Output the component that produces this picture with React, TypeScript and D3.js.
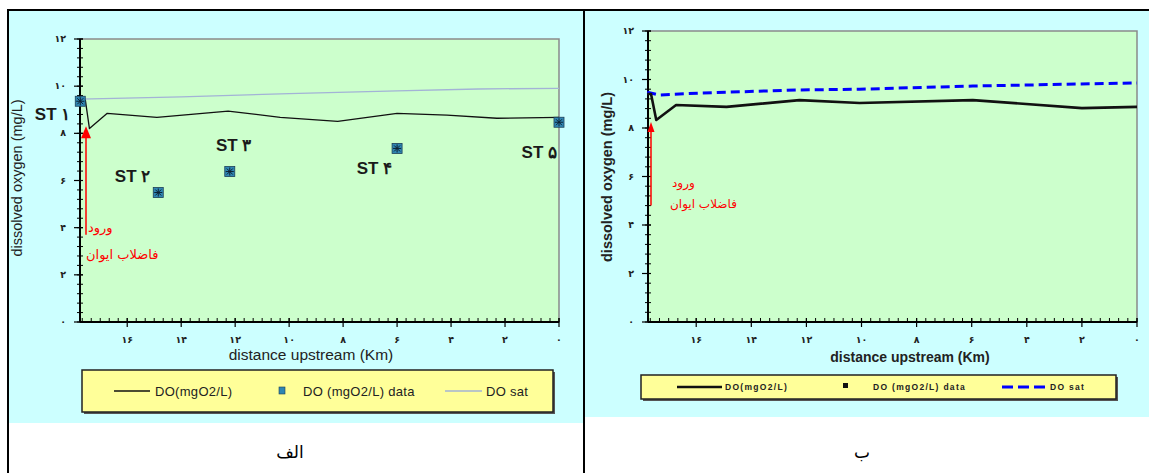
import { useRef, useEffect } from "react";
import * as d3 from "d3";

// distance upstream (km) -> dissolved oxygen (mg/L)
const leftModelKm = [17.74, 17.55, 17.4, 16.74, 14.9, 12.26, 10.33, 8.2, 6.0, 4.15, 2.3, 0];
const leftModelDO = [9.4, 9.4, 8.2, 8.85, 8.68, 8.94, 8.68, 8.51, 8.85, 8.77, 8.64, 8.68];
const leftSatKm = [17.74, 14, 10, 6, 3, 0];
const leftSatDO = [9.45, 9.55, 9.68, 9.8, 9.88, 9.91];

const stationNames = ["ST ۱", "ST ۲", "ST ۳", "ST ۴", "ST ۵"];
const stationKm = [17.74, 14.85, 12.2, 6.0, 0];
const stationDO = [9.36, 5.49, 6.38, 7.36, 8.47];

const rightModelKm = [17.78, 17.64, 17.45, 16.73, 14.9, 12.25, 10.07, 5.96, 2.0, 0];
const rightModelDO = [9.4, 9.4, 8.33, 8.95, 8.87, 9.15, 9.03, 9.15, 8.82, 8.87];
const rightSatKm = [17.78, 17.35, 15.9, 12.25, 10.07, 5.96, 0];
const rightSatDO = [9.48, 9.36, 9.44, 9.57, 9.6, 9.73, 9.86];

const xTickValues = [16, 14, 12, 10, 8, 6, 4, 2, 0];
const yTickValues = [0, 2, 4, 6, 8, 10, 12];
const legendLabels = ["DO(mgO2/L)", "DO (mgO2/L) data", "DO sat"];
const inflowLabel = ["ورود", "فاضلاب ایوان"];
const captions = ["الف", "ب"];

const fa = (n) => String(n).replace(/\d/g, (d) => "۰۱۲۳۴۵۶۷۸۹"[+d]);
const zip = (xs, ys) => xs.map((x, i) => ({ km: x, v: ys[i] }));

// label offsets from each station point (px)
const labelOffsets = [
  { dx: -10, dy: 19, anchor: "end" },
  { dx: -8, dy: -11, anchor: "end" },
  { dx: 4, dy: -21, anchor: "middle" },
  { dx: -5, dy: 26, anchor: "end" },
  { dx: -2, dy: 36, anchor: "end" },
];

const drawPanel = (svg, cfg) => {
  const g = svg.append("g");
  const x = d3.scaleLinear().domain([17.75, 0]).range([cfg.left, cfg.right]);
  const y = d3.scaleLinear().domain([0, 12]).range([cfg.bottom, cfg.top]);

  // panel background
  g.append("rect")
    .attr("x", cfg.bgX)
    .attr("y", 11)
    .attr("width", cfg.bgW)
    .attr("height", cfg.bgH)
    .attr("fill", "#CCFFFF");

  // plot area
  g.append("rect")
    .attr("x", cfg.left)
    .attr("y", cfg.top)
    .attr("width", cfg.right - cfg.left)
    .attr("height", cfg.bottom - cfg.top)
    .attr("fill", "#CCFFCC")
    .attr("stroke", "#8a8a8a")
    .attr("stroke-width", 1.5);

  // minor ticks
  const yMinor = d3.range(0, 12.001, 0.4);
  g.selectAll(".ym")
    .data(yMinor)
    .enter()
    .append("line")
    .attr("x1", cfg.left - 3)
    .attr("x2", cfg.left + 3)
    .attr("y1", (d) => y(d))
    .attr("y2", (d) => y(d))
    .attr("stroke", "#000")
    .attr("stroke-width", 1);
  g.selectAll(".ymaj")
    .data(yTickValues)
    .enter()
    .append("line")
    .attr("x1", cfg.left - 6)
    .attr("x2", cfg.left + 3)
    .attr("y1", (d) => y(d))
    .attr("y2", (d) => y(d))
    .attr("stroke", "#000")
    .attr("stroke-width", 1.2);

  const xMinor = d3.range(0, 17.7, 1 / 3);
  g.selectAll(".xm")
    .data(xMinor)
    .enter()
    .append("line")
    .attr("x1", (d) => x(d))
    .attr("x2", (d) => x(d))
    .attr("y1", cfg.bottom - 4)
    .attr("y2", cfg.bottom)
    .attr("stroke", "#000")
    .attr("stroke-width", 1);
  g.selectAll(".xmaj")
    .data(xTickValues)
    .enter()
    .append("line")
    .attr("x1", (d) => x(d))
    .attr("x2", (d) => x(d))
    .attr("y1", cfg.bottom - 4)
    .attr("y2", cfg.bottom + 5)
    .attr("stroke", "#000")
    .attr("stroke-width", 1.2);

  // axis lines
  g.append("line")
    .attr("x1", cfg.left)
    .attr("x2", cfg.left)
    .attr("y1", cfg.top)
    .attr("y2", cfg.bottom)
    .attr("stroke", "#000")
    .attr("stroke-width", 2);
  g.append("line")
    .attr("x1", cfg.left)
    .attr("x2", cfg.right)
    .attr("y1", cfg.bottom)
    .attr("y2", cfg.bottom)
    .attr("stroke", "#000")
    .attr("stroke-width", 2);

  // tick labels
  g.selectAll(".yl")
    .data(yTickValues)
    .enter()
    .append("text")
    .attr("x", cfg.left - 14)
    .attr("y", (d) => y(d) + 3)
    .attr("text-anchor", "end")
    .style("font-family", "DejaVu Sans, sans-serif")
    .style("font-size", "9.5px")
    .style("font-weight", "bold")
    .style("fill", "#222")
    .text((d) => fa(d));
  g.selectAll(".xl")
    .data(xTickValues)
    .enter()
    .append("text")
    .attr("x", (d) => x(d))
    .attr("y", cfg.bottom + 21)
    .attr("text-anchor", "middle")
    .style("font-family", "DejaVu Sans, sans-serif")
    .style("font-size", "9.5px")
    .style("font-weight", "bold")
    .style("fill", "#222")
    .text((d) => fa(d));

  // axis titles
  g.append("text")
    .attr("transform", `translate(${cfg.yTitleX},${cfg.yTitleY}) rotate(-90)`)
    .attr("text-anchor", "middle")
    .style("font-family", "Liberation Sans, Arial, sans-serif")
    .style("font-size", cfg.titleSize)
    .style("font-weight", cfg.titleWeight)
    .style("fill", "#222")
    .text("dissolved oxygen (mg/L)");
  g.append("text")
    .attr("x", cfg.xTitleX)
    .attr("y", cfg.xTitleY)
    .attr("text-anchor", "middle")
    .style("font-family", "Liberation Sans, Arial, sans-serif")
    .style("font-size", cfg.xTitleSize)
    .style("font-weight", cfg.titleWeight)
    .style("fill", "#222")
    .text("distance upstream (Km)");

  const line = d3
    .line()
    .x((d) => x(d.km))
    .y((d) => y(d.v));

  g.append("path")
    .datum(cfg.sat)
    .attr("fill", "none")
    .attr("stroke", cfg.satColor)
    .attr("stroke-width", cfg.satWidth)
    .attr("stroke-dasharray", cfg.satDash)
    .attr("d", line);

  g.append("path")
    .datum(cfg.model)
    .attr("fill", "none")
    .attr("stroke", "#111")
    .attr("stroke-width", cfg.modelWidth)
    .attr("stroke-linejoin", "round")
    .attr("d", line);

  // station markers
  if (cfg.stations) {
    const st = g
      .selectAll(".st")
      .data(cfg.stations)
      .enter()
      .append("g")
      .attr("transform", (d) => `translate(${x(d.km)},${y(d.v)})`);
    st.append("rect")
      .attr("x", -5)
      .attr("y", -5)
      .attr("width", 10)
      .attr("height", 10)
      .attr("fill", "#2f86b3")
      .attr("stroke", "#1c3f57")
      .attr("stroke-width", 0.8);
    st.append("path")
      .attr("d", "M-3,-3L3,3M3,-3L-3,3M0,-4V4M-4,0H4")
      .attr("stroke", "#0d2233")
      .attr("stroke-width", 1);

    g.selectAll(".stl")
      .data(cfg.stations)
      .enter()
      .append("text")
      .attr("x", (d, i) => x(d.km) + labelOffsets[i].dx)
      .attr("y", (d, i) => y(d.v) + labelOffsets[i].dy)
      .attr("text-anchor", (d, i) => labelOffsets[i].anchor)
      .style("font-family", "Liberation Sans, Arial, sans-serif")
      .style("font-size", "17px")
      .style("font-weight", "bold")
      .style("fill", "#1a1a1a")
      .text((d) => d.name);
  }

  // inflow arrow
  const ax = cfg.left + cfg.arrowDx;
  g.append("line")
    .attr("x1", ax)
    .attr("x2", ax)
    .attr("y1", y(cfg.arrowFrom))
    .attr("y2", y(cfg.arrowTo) + 8)
    .attr("stroke", "#ff0000")
    .attr("stroke-width", 1.5);
  const ay = y(cfg.arrowTo);
  g.append("path")
    .attr("d", `M${ax},${ay}L${ax - cfg.headW},${ay + cfg.headH}L${ax + cfg.headW},${ay + cfg.headH}Z`)
    .attr("fill", "#ff0000");
  inflowLabel.forEach((t, i) => {
    g.append("text")
      .attr("x", cfg.redX[i])
      .attr("y", cfg.redY[i])
      .attr("text-anchor", "start")
      .style("font-family", "DejaVu Sans, sans-serif")
      .style("font-size", cfg.redSize)
      .style("fill", "#ff0000")
      .text(t);
  });

  // legend
  const L = cfg.legend;
  g.append("rect")
    .attr("x", L.x + 2)
    .attr("y", L.y + 2)
    .attr("width", L.w)
    .attr("height", L.h)
    .attr("fill", "#555");
  g.append("rect")
    .attr("x", L.x)
    .attr("y", L.y)
    .attr("width", L.w)
    .attr("height", L.h)
    .attr("fill", "#FFFF99")
    .attr("stroke", "#222")
    .attr("stroke-width", 1.5);
  const ly = L.y + L.h / 2;
  g.append("line")
    .attr("x1", L.items[0][0])
    .attr("x2", L.items[0][1])
    .attr("y1", ly)
    .attr("y2", ly)
    .attr("stroke", "#111")
    .attr("stroke-width", cfg.modelWidth);
  if (cfg.stations) {
    g.append("rect")
      .attr("x", L.items[1][0] - 3)
      .attr("y", ly - 4)
      .attr("width", 6)
      .attr("height", 7)
      .attr("fill", "#2f86b3")
      .attr("stroke", "#1c3f57")
      .attr("stroke-width", 0.6);
  } else {
    g.append("rect")
      .attr("x", L.items[1][0] - 3)
      .attr("y", ly - 4)
      .attr("width", 5)
      .attr("height", 5)
      .attr("fill", "#111");
  }
  g.append("line")
    .attr("x1", L.items[2][0])
    .attr("x2", L.items[2][1])
    .attr("y1", ly)
    .attr("y2", ly)
    .attr("stroke", cfg.satColor)
    .attr("stroke-width", cfg.satWidth)
    .attr("stroke-dasharray", cfg.satLegendDash);
  legendLabels.forEach((t, i) => {
    g.append("text")
      .attr("x", L.textX[i])
      .attr("y", ly + L.fontSize * 0.36)
      .style("font-family", "Liberation Sans, Arial, sans-serif")
      .style("font-size", `${L.fontSize}px`)
      .style("font-weight", L.weight)
      .style("letter-spacing", L.spacing)
      .style("fill", "#222")
      .text(t);
  });
};

export default function App() {
  const svgRef = useRef(null);

  useEffect(() => {
    const svg = d3.select(svgRef.current);
    svg.selectAll("*").remove();

    svg.append("rect").attr("width", 1149).attr("height", 473).attr("fill", "#fff");

    drawPanel(svg, {
      bgX: 9,
      bgW: 574,
      bgH: 412,
      left: 80,
      right: 559,
      top: 39,
      bottom: 322,
      model: zip(leftModelKm, leftModelDO),
      sat: zip(leftSatKm, leftSatDO),
      stations: stationKm.map((km, i) => ({ km, v: stationDO[i], name: stationNames[i] })),
      satColor: "#a3b3d6",
      satWidth: 1.3,
      satDash: null,
      satLegendDash: null,
      modelWidth: 1.3,
      yTitleX: 22,
      yTitleY: 178,
      xTitleX: 311,
      xTitleY: 360,
      titleSize: "14.5px",
      xTitleSize: "15.5px",
      titleWeight: "normal",
      arrowDx: 6,
      arrowFrom: 3.7,
      arrowTo: 8.3,
      headW: 5,
      headH: 12,
      redX: [88, 86],
      redY: [232, 259],
      redSize: "13px",
      legend: {
        x: 82,
        y: 370,
        w: 471,
        h: 42,
        items: [[114, 150], [282, 0], [445, 482]],
        textX: [155, 303, 486],
        fontSize: 13,
        weight: "normal",
        spacing: "0.3px",
      },
    });

    drawPanel(svg, {
      bgX: 585,
      bgW: 564,
      bgH: 406,
      left: 648,
      right: 1137,
      top: 31,
      bottom: 322,
      model: zip(rightModelKm, rightModelDO),
      sat: zip(rightSatKm, rightSatDO),
      stations: null,
      satColor: "#0000ff",
      satWidth: 3,
      satDash: "9,5",
      satLegendDash: "11,5",
      modelWidth: 2.6,
      yTitleX: 612,
      yTitleY: 177,
      xTitleX: 910,
      xTitleY: 362,
      titleSize: "14.5px",
      xTitleSize: "14px",
      titleWeight: "bold",
      arrowDx: 3,
      arrowFrom: 4.8,
      arrowTo: 8.25,
      headW: 3.5,
      headH: 10,
      redX: [672, 670],
      redY: [187, 208],
      redSize: "12px",
      legend: {
        x: 641,
        y: 375,
        w: 475,
        h: 24,
        items: [[677, 722], [846, 0], [1002, 1045]],
        textX: [725, 873, 1050],
        fontSize: 8.5,
        weight: "bold",
        spacing: "1.3px",
      },
    });

    // table borders
    const border = svg.append("g").attr("stroke", "#000").attr("stroke-width", 2);
    border.append("line").attr("x1", 7).attr("x2", 1149).attr("y1", 10).attr("y2", 10);
    border.append("line").attr("x1", 8).attr("x2", 8).attr("y1", 9).attr("y2", 473);
    border.append("line").attr("x1", 584).attr("x2", 584).attr("y1", 9).attr("y2", 473);

    svg.selectAll(".cap")
      .data(captions)
      .enter()
      .append("text")
      .attr("x", (d, i) => (i === 0 ? 290 : 862))
      .attr("y", 458)
      .attr("text-anchor", "middle")
      .style("font-family", "DejaVu Serif, DejaVu Sans, serif")
      .style("font-size", "17px")
      .style("fill", "#000")
      .text((d) => d);
  }, []);

  return (
    <div style={{ position: "absolute", left: 0, top: 0 }}>
      <svg ref={svgRef} width={1149} height={473} style={{ display: "block" }}></svg>
    </div>
  );
}
